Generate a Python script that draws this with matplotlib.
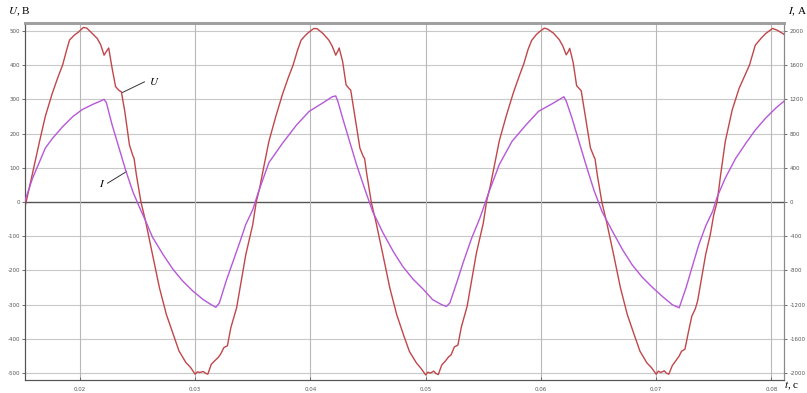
import matplotlib
matplotlib.use("Agg")
import matplotlib.pyplot as plt

plt.rcParams['mathtext.fontset'] = 'stix'
plt.rcParams['axes.unicode_minus'] = False

# voltage U, V (left axis)
t_u = [0.0152, 0.0158, 0.0165, 0.0170, 0.0176, 0.0181, 0.0185, 0.0189, 0.0191, 0.0195,
       0.0199, 0.0203, 0.0206, 0.0210, 0.0215, 0.0218, 0.0221, 0.0223, 0.0225, 0.0228,
       0.0231, 0.0234, 0.0236, 0.0239, 0.0243, 0.0246, 0.0247, 0.0249, 0.0253, 0.0257,
       0.0263, 0.0269, 0.0275, 0.0281, 0.0286, 0.0292, 0.0296, 0.0300, 0.0302, 0.0304,
       0.0307, 0.0309, 0.0311, 0.0314, 0.0317, 0.0320, 0.0322, 0.0325, 0.0328, 0.0331,
       0.0336, 0.0340, 0.0344, 0.0350,
       0.0353, 0.0356, 0.0360, 0.0364, 0.0370, 0.0376, 0.0381, 0.0385, 0.0389, 0.0392,
       0.0396, 0.0399, 0.0403, 0.0406, 0.0411, 0.0416, 0.0419, 0.0422, 0.0424, 0.0425,
       0.0428, 0.0431, 0.0434, 0.0435, 0.0438, 0.0443, 0.0446, 0.0447, 0.0449, 0.0453,
       0.0457, 0.0463, 0.0469, 0.0475, 0.0481, 0.0486, 0.0492, 0.0496, 0.0500, 0.0502,
       0.0504, 0.0507, 0.0509, 0.0511, 0.0514, 0.0517, 0.0520, 0.0522, 0.0525, 0.0528,
       0.0531, 0.0536, 0.0540, 0.0544, 0.0550,
       0.0553, 0.0556, 0.0560, 0.0564, 0.0570, 0.0576, 0.0581, 0.0585, 0.0589, 0.0592,
       0.0596, 0.0599, 0.0603, 0.0606, 0.0611, 0.0616, 0.0619, 0.0622, 0.0624, 0.0625,
       0.0628, 0.0631, 0.0634, 0.0635, 0.0638, 0.0643, 0.0646, 0.0647, 0.0649, 0.0653,
       0.0657, 0.0663, 0.0669, 0.0675, 0.0681, 0.0686, 0.0692, 0.0696, 0.0700, 0.0702,
       0.0704, 0.0707, 0.0709, 0.0711, 0.0714, 0.0717, 0.0720, 0.0722, 0.0725, 0.0728,
       0.0731, 0.0734, 0.0736, 0.0740, 0.0743, 0.0747, 0.0750, 0.0753, 0.0756, 0.0760,
       0.0766, 0.0772, 0.0781, 0.0786, 0.0791, 0.0795, 0.0801, 0.0805, 0.0810, 0.0812]
u = [-20, 70, 177, 250, 317, 365, 400, 450, 473, 487,
     497, 510, 508, 495, 478, 460, 429, 440, 450, 390,
     337, 326, 322, 264, 167, 135, 128, 80, 0, -56,
     -153, -250, -328, -386, -435, -469, -483, -503, -496, -498,
     -495, -500, -503, -474, -464, -454, -445, -425, -420, -367,
     -309, -231, -153, -66,
     0, 41, 110, 177, 250, 317, 365, 400, 445, 473,
     488, 497, 507, 506, 492, 473, 455, 429, 442, 450,
     410, 342, 330, 327, 264, 157, 132, 128, 80, -3,
     -60, -155, -252, -330, -390, -437, -470, -486, -505, -497,
     -500, -494, -501, -504, -476, -465, -452, -447, -423, -418,
     -365, -305, -228, -150, -62,
     4, 45, 112, 180, 252, 318, 366, 402, 447, 472,
     489, 498, 508, 505, 493, 474, 456, 430, 441, 449,
     408, 340, 329, 325, 262, 158, 133, 126, 78, -2,
     -58, -152, -250, -329, -388, -436, -470, -484, -503, -494,
     -498, -493, -500, -503, -478, -464, -450, -436, -430, -380,
     -333, -312, -289, -212, -153, -95, -37, 2, 80, 177,
     269, 332, 400, 458, 478, 492, 507, 502, 492, 487]

# current I, A (right axis)
t_i = [0.0152, 0.0159, 0.0165, 0.0170, 0.0176, 0.0185, 0.0194, 0.0202, 0.0211, 0.0218,
       0.0221, 0.0223, 0.0228, 0.0234, 0.0240, 0.0246, 0.0252, 0.0257, 0.0263, 0.0272,
       0.0281, 0.0289, 0.0298, 0.0307, 0.0314, 0.0318, 0.0321, 0.0327, 0.0333, 0.0339,
       0.0344, 0.0350,
       0.0355, 0.0364, 0.0376, 0.0388, 0.0399, 0.0411, 0.0419, 0.0422, 0.0424, 0.0428,
       0.0434, 0.0440, 0.0447, 0.0454, 0.0463, 0.0472, 0.0480, 0.0489, 0.0498, 0.0506,
       0.0514, 0.0518, 0.0521, 0.0527, 0.0533, 0.0540, 0.0547,
       0.0555, 0.0564, 0.0575, 0.0587, 0.0598, 0.0610, 0.0620, 0.0622, 0.0627, 0.0633,
       0.0639, 0.0646, 0.0653, 0.0662, 0.0671, 0.0679, 0.0688, 0.0697, 0.0706, 0.0714,
       0.0720,
       0.0726, 0.0731, 0.0737, 0.0743, 0.0749, 0.0753, 0.0760, 0.0769, 0.0778, 0.0786,
       0.0795, 0.0804, 0.0812]
i_a = [0, 280, 470, 630, 740, 880, 1000, 1080, 1140, 1180,
       1200, 1160, 900, 630, 360, 120, -70, -220, -410, -610,
       -790, -920, -1040, -1140, -1200, -1230, -1180, -920, -690, -460,
       -260, -90,
       120, 460, 690, 900, 1060, 1160, 1230, 1240, 1170, 980,
       710, 440, 160, -110, -360, -580, -750, -900, -1020, -1140,
       -1200, -1220, -1180, -940, -690, -420, -190,
       120, 440, 710, 900, 1060, 1150, 1230, 1180, 980, 710,
       440, 140, -110, -340, -560, -730, -880, -1000, -1110, -1200,
       -1236,
       -1000, -770, -500, -280, -110, 60, 280, 510, 690, 840,
       980, 1100, 1190]

x_ticks = [0.02, 0.03, 0.04, 0.05, 0.06, 0.07, 0.08]
u_ticks = [-500, -400, -300, -200, -100, 0, 100, 200, 300, 400, 500]
i_ticks = [-2000, -1600, -1200, -800, -400, 0, 400, 800, 1200, 1600, 2000]

fig = plt.figure(figsize=(8.07, 3.93), dpi=100)
ax = fig.add_axes([0.031, 0.033, 0.941, 0.9085])
ax2 = ax.twinx()

ax.set_xlim(0.01524, 0.08113)
ax.set_ylim(-520, 523)
ax2.set_ylim(-2080, 2092)

ax.set_xticks(x_ticks)
ax.set_xticklabels([f'{v:.2f}' for v in x_ticks])
ax.set_yticks(u_ticks)
ax2.set_yticks(i_ticks)

for v in u_ticks:
    if v == 0:
        ax.axhline(v, color='#555555', lw=1.0, zorder=1)
    else:
        ax.axhline(v, color='#c8c8c8', lw=0.8, zorder=1)
for v in x_ticks:
    ax.axvline(v, color='#b8b8b8', lw=0.8, zorder=1)

ax.plot(t_u, u, color='#c0464a', lw=1.0, zorder=3)
ax2.plot(t_i, i_a, color='#b658d8', lw=1.0, zorder=3)

for a in (ax, ax2):
    a.tick_params(labelsize=4.0, colors='#555555', length=2.5, width=0.6, pad=1.0)
    a.spines['top'].set_color('#a0a0a0')
    a.spines['top'].set_linewidth(2)
    a.spines['left'].set_color('#555555')
    a.spines['bottom'].set_color('#555555')
    a.spines['right'].set_color('#888888')
ax.tick_params(axis='x', direction='in', pad=5)

# curve labels
ax.plot([0.0237, 0.0256], [320, 351], color='#333333', lw=0.7)
ax.text(0.0260, 353, '$U$', fontsize=8, va='center', ha='left')
ax.plot([0.02405, 0.0224], [89, 55], color='#333333', lw=0.7)
ax.text(0.0222, 54, '$I$', fontsize=8, va='center', ha='right')

fig.text(0.010, 0.97, '$U$, В', fontsize=8, family='Liberation Serif', va='center', ha='left')
fig.text(0.976, 0.97, '$I$, А', fontsize=8, family='Liberation Serif', va='center', ha='left')
fig.text(0.972, 0.018, '$t$, с', fontsize=8, family='Liberation Serif', va='center', ha='left')

fig.savefig('out.png', dpi=100)
